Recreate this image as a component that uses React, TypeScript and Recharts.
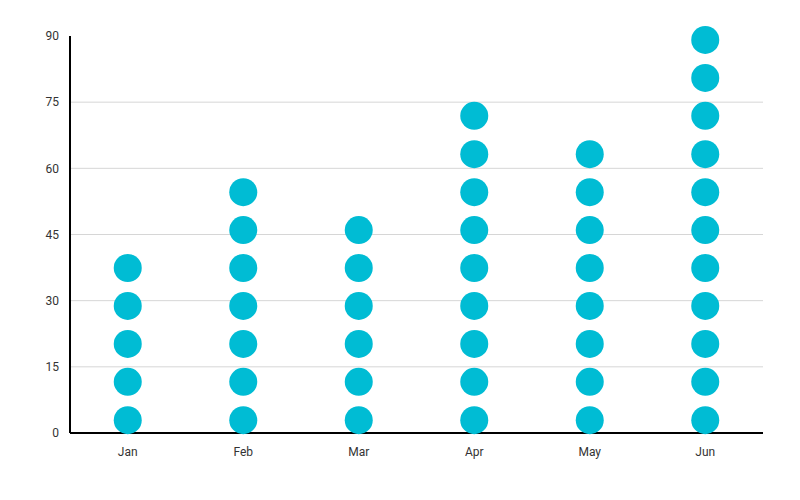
import { ScatterChart, Scatter, XAxis, YAxis, CartesianGrid } from 'recharts'

const months = ['Jan', 'Feb', 'Mar', 'Apr', 'May', 'Jun']
// number of dots stacked in each month
const dotCounts = [5, 7, 6, 9, 8, 11]
// vertical value of each dot row
const dotLevels = [2.9, 11.6, 20.2, 28.8, 37.4, 46.0, 54.6, 63.2, 71.9, 80.5, 89.1]
const yTicks = [0, 15, 30, 45, 60, 75, 90]

const points = months.flatMap((m, i) =>
    dotLevels.slice(0, dotCounts[i]).map((v) => ({ x: i, y: v, month: m }))
)

const Dot = (props: any) => {
    const { cx, cy } = props
    if (cx == null || cy == null) return null
    return <circle cx={cx} cy={cy} r={14} fill="#00BCD4" />
}

export default function App() {
    return (
        <div style={{ position: 'absolute', left: 0, top: 0, fontFamily: 'Roboto' }}>
            <ScatterChart
                width={800}
                height={500}
                margin={{ top: 36, right: 37, bottom: 37, left: 0 }}
            >
                <CartesianGrid
                    vertical={false}
                    stroke="#d6d6d6"
                    horizontalValues={[15, 30, 45, 60, 75]}
                />
                <XAxis
                    type="number"
                    dataKey="x"
                    domain={[-0.5, 5.5]}
                    ticks={[0, 1, 2, 3, 4, 5]}
                    tickFormatter={(v: number) => months[v]}
                    height={30}
                    tickLine={false}
                    tickSize={6}
                    tickMargin={8}
                    axisLine={{ stroke: '#000', strokeWidth: 2 }}
                    tick={{ fill: '#333', fontSize: 12 }}
                />
                <YAxis
                    type="number"
                    dataKey="y"
                    domain={[0, 90]}
                    ticks={yTicks}
                    width={70}
                    tickLine={false}
                    tickSize={6}
                    tickMargin={5}
                    axisLine={{ stroke: '#000', strokeWidth: 2 }}
                    tick={{ fill: '#333', fontSize: 12 }}
                />
                <Scatter data={points} shape={Dot} isAnimationActive={false} />
            </ScatterChart>
        </div>
    )
}
